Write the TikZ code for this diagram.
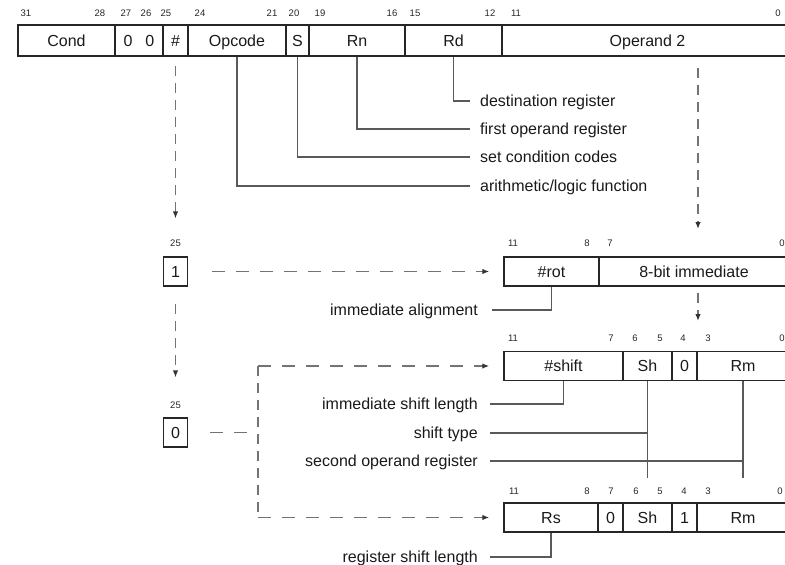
\documentclass[tikz,border=0pt]{standalone}
\usepackage{fontspec}
\setmainfont{Liberation Sans}
\usetikzlibrary{arrows.meta}
\begin{document}
\begin{tikzpicture}[x=1pt,y=-1pt,
 cell/.style={draw=black!85, line width=1.5pt, minimum height=29pt, inner sep=0pt,
   font=\fontsize{16}{18}\selectfont, text=black!90, text height=11.5pt, text depth=0pt},
 topcell/.style={cell, minimum height=31pt},
 bitbox/.style={cell, minimum width=24pt},
 bitno/.style={font=\fontsize{9.5}{10}\selectfont, text=black!85, inner sep=0pt, text height=6.8pt, text depth=0pt},
 note/.style={font=\fontsize{16}{18}\selectfont, text=black!90, inner sep=0pt, text height=11.5pt, text depth=0pt},
 lead/.style={draw=black!65, line width=1.2pt},
 dashv/.style={draw=black!55, line width=1.3pt, dash pattern=on 10pt off 7pt},
 dashh/.style={draw=black!55, line width=1.3pt, dash pattern=on 13pt off 11pt},
 tip/.style={-{Latex[length=7pt,width=5.5pt,fill=black!80,color=black!80]}}
]
\useasboundingbox (0,0) rectangle (785,565);
\clip (0,0) rectangle (785,565);

% ---------- top instruction word ----------
\node[topcell, minimum width=97pt] (cond) at (66.5,40.5) {Cond};
\node[topcell, minimum width=48pt] (zz) at (139,40.5) {0\hspace{13pt}0};
\node[topcell, minimum width=25pt] (hash) at (175.5,40.5) {\#};
\node[topcell, minimum width=98pt] (opc) at (237,40.5) {Opcode};
\node[topcell, minimum width=23pt] (sbit) at (297.5,40.5) {S};
\node[topcell, minimum width=96pt] (rn) at (357,40.5) {Rn};
\node[topcell, minimum width=97pt] (rd) at (453.5,40.5) {Rd};
\node[topcell, minimum width=291pt] (op2) at (647.5,40.5) {Operand 2};

\foreach \x/\t [count=\i] in {26/31,100/28,126/27,146/26,166/25,200/24,272/21,294/20,320/19,392/16,415/15,490/12,516/11,778/0}
  \node[bitno] (ta\i) at (\x,13) {\t};

% ---------- field descriptions ----------
\node[note, anchor=west] (n1) at (480,101) {destination register};
\node[note, anchor=west] (n2) at (480,129) {first operand register};
\node[note, anchor=west] (n3) at (480,157) {set condition codes};
\node[note, anchor=west] (n4) at (480,186) {arithmetic/logic function};
\draw[lead] (rd.south) |- ([xshift=-10pt]n1.west);
\draw[lead] (rn.south) |- ([xshift=-10pt]n2.west);
\draw[lead] (sbit.south) |- ([xshift=-10pt]n3.west);
\draw[lead] (opc.south) |- ([xshift=-10pt]n4.west);

% ---------- bit 25 selector ----------
\node[bitno] (p25a) at (175.5,243) {25};
\node[bitbox] (one) at (175.5,271.5) {1};
\node[bitno] (p25b) at (175.5,405) {25};
\node[bitbox] (zero) at (175.5,432.5) {0};

\draw[dashv,tip] ([yshift=-9pt]hash.south) -- ([yshift=21pt]p25a.north);
\draw[dashv,tip] ([yshift=-17pt]one.south) -- ([yshift=24pt]p25b.north);

% ---------- immediate operand ----------
\node[cell, minimum width=95pt] (rot) at (551.5,271.5) {\#rot};
\node[cell, minimum width=190pt] (imm) at (694,271.5) {8-bit immediate};
\foreach \x/\t [count=\i] in {513/11,587/8,610/7,782/0}
  \node[bitno] (tb\i) at (\x,243) {\t};
\node[note, anchor=east] (na) at (478,310) {immediate alignment};
\draw[lead] (rot.south) |- ([xshift=14pt]na.east);

\draw[dashh,tip] ([xshift=24pt]one.east) -- ([xshift=-14pt]rot.west);

\coordinate (r1a) at (698,68);
\coordinate (r1b) at (698,229);
\draw[dashv,tip] (r1a) -- (r1b);
\coordinate (r2a) at (698,293);
\coordinate (r2b) at (698,321);
\draw[dashv,tip] (r2a) -- (r2b);

% ---------- register operand, immediate shift ----------
\node[cell, minimum width=119pt] (shift3) at (563.5,366) {\#shift};
\node[cell, minimum width=49pt] (sh3) at (647.5,366) {Sh};
\node[cell, minimum width=25pt] (z3) at (684.5,366) {0};
\node[cell, minimum width=92pt] (rm3) at (743,366) {Rm};
\foreach \x/\t [count=\i] in {513/11,611/7,635/6,660/5,683/4,708/3,782/0}
  \node[bitno] (tc\i) at (\x,338) {\t};

\node[note, anchor=east] (nb1) at (478,404) {immediate shift length};
\node[note, anchor=east] (nb2) at (478,433) {shift type};
\node[note, anchor=east] (nb3) at (478,461) {second operand register};
\draw[lead] (shift3.south) |- ([xshift=12pt]nb1.east);
\coordinate (s3end) at (647.5,478);
\coordinate (m3end) at (743,478);
\draw[lead] (sh3.south) -- (s3end);
\draw[lead] (rm3.south) -- (m3end);
\draw[lead] ([xshift=12pt]nb2.east) -- (nb2.east -| sh3.south);
\draw[lead] ([xshift=12pt]nb3.east) -- (nb3.east -| rm3.south);

% ---------- register operand, register shift ----------
\node[cell, minimum width=94pt] (rs4) at (551,517.5) {Rs};
\node[cell, minimum width=25pt] (z4) at (610.5,517.5) {0};
\node[cell, minimum width=49pt] (sh4) at (647.5,517.5) {Sh};
\node[cell, minimum width=25pt] (o4) at (684.5,517.5) {1};
\node[cell, minimum width=92pt] (rm4) at (743,517.5) {Rm};
\foreach \x/\t [count=\i] in {514/11,587/8,611/7,636/6,660/5,684/4,708/3,780/0}
  \node[bitno] (td\i) at (\x,491) {\t};
\node[note, anchor=east] (nc) at (478,557) {register shift length};
\draw[lead] (rs4.south) |- ([xshift=12pt]nc.east);

% ---------- bit 25 = 0 branch ----------
\coordinate (j0) at (258,432.5);
\coordinate (j1) at (258,366);
\coordinate (j2) at (258,517.5);
\draw[dashh] ([xshift=22pt]zero.east) -- (j0);
\draw[dashv] (j1) -- (j2);
\draw[dashh,tip] (j1) -- ([xshift=-14pt]shift3.west);
\draw[dashh,tip] (j2) -- ([xshift=-14pt]rs4.west);
\end{tikzpicture}
\end{document}
